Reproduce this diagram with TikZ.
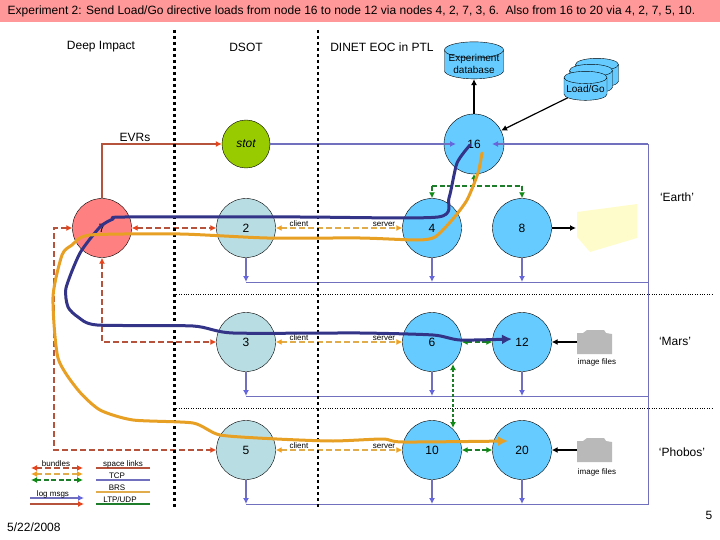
\documentclass[tikz,border=0pt]{standalone}
\usepackage{fontspec}
\setmainfont{Liberation Sans}
\usetikzlibrary{arrows.meta, shapes.geometric}

\definecolor{titlepink}{HTML}{FF9999}
\definecolor{nodeblue}{HTML}{66CCFF}
\definecolor{nodeteal}{HTML}{B8DDE3}
\definecolor{nodered}{HTML}{FF8080}
\definecolor{nodegreen}{HTML}{99CC00}
\definecolor{tcpline}{HTML}{7070BE}
\definecolor{tcptip}{HTML}{6666DD}
\definecolor{spaceline}{HTML}{B5533C}
\definecolor{spacetip}{HTML}{E8431A}
\definecolor{brsline}{HTML}{E0AC4C}
\definecolor{brstip}{HTML}{F0A020}
\definecolor{udpline}{HTML}{1E7D2A}
\definecolor{udptip}{HTML}{0F8A14}
\definecolor{pathblue}{HTML}{333388}
\definecolor{pathorange}{HTML}{E8A024}

\tikzset{
	site/.style = {circle, draw = black, thin, minimum size = 59pt, inner sep = 0pt, font = \fontsize{12}{14}\selectfont},
	label/.style = {inner sep = 0pt, font = \fontsize{12}{14}\selectfont},
	tinylabel/.style = {inner sep = 0pt, font = \fontsize{8}{9}\selectfont},
	store/.style = {cylinder, shape border rotate = 90, aspect = 0.32, draw = black, thin, fill = nodeblue, minimum width = 43pt, minimum height = 29pt, inner sep = 0pt, align = center, font = \fontsize{10}{12}\selectfont},
	tcp/.style = {draw = tcpline, line width = 1.3pt, -{Latex[color = tcptip, length = 6pt, width = 6pt]}},
	spacelink/.style = {draw = spaceline, line width = 1.3pt, -{Latex[color = spacetip, length = 6pt, width = 6pt]}},
	reddash/.style = {draw = spaceline, line width = 1.3pt, dash pattern = on 6pt off 3pt, {Latex[color = spacetip, length = 6pt, width = 6pt]}-{Latex[color = spacetip, length = 6pt, width = 6pt]}},
	orangedash/.style = {draw = brsline, line width = 1.3pt, dash pattern = on 6pt off 3pt, {Latex[color = brstip, length = 6pt, width = 6pt]}-{Latex[color = brstip, length = 6pt, width = 6pt]}},
	greendash/.style = {draw = udpline, line width = 1.3pt, dash pattern = on 5pt off 2.5pt, {Latex[color = udptip, length = 6pt, width = 6pt]}-{Latex[color = udptip, length = 6pt, width = 6pt]}},
	blackarrow/.style = {draw = black, line width = 1.2pt, -{Latex[length = 6pt, width = 6pt]}},
	bigpath/.style = {line width = 3pt, line join = round, line cap = round, -{Latex[length = 10pt, width = 10pt]}},
	divider/.style = {draw = black, line width = 2.6pt, dash pattern = on 3pt off 3pt},
	planetline/.style = {draw = black, thin, dotted}
}

\begin{document}
\begin{tikzpicture}[x = 1pt, y = -1pt]
	\useasboundingbox (0, 0) rectangle (720, 540);
	\fill[titlepink] (0, 0) rectangle (720, 22);
	\node[label, anchor = west] (title) at (7.5, 11) {Experiment 2: Send Load/Go directive loads from node 16 to node 12 via nodes 4, 2, 7, 3, 6.\ \ Also from 16 to 20 via 4, 2, 7, 5, 10.};

	\node[label] (deepimpact) at (101, 47) {Deep Impact};
	\node[label] (dsot) at (246, 47) {DSOT};
	\node[label] (dinet) at (382, 47) {DINET EOC in PTL};
	\node[label] (evrs) at (135, 137) {EVRs};
	\node[label] (earth) at (677, 197) {`Earth'};
	\node[label] (mars) at (675, 341) {`Mars'};
	\node[label] (phobos) at (682, 452) {`Phobos'};
	\node[label, anchor = west] (date) at (7, 527) {5/22/2008};
	\node[label] (pagenum) at (709, 515) {5};

	\coordinate (topright) at (648, 144);
	\coordinate (earthcorner) at (648, 282);
	\coordinate (marscorner) at (648, 396);
	\coordinate (phoboscorner) at (648, 504);
	\coordinate (earthleft) at (246, 282);
	\coordinate (marsleft) at (246, 396);
	\coordinate (phobosleft) at (246, 504);
	\draw[tcpline, thick] (topright) -- (phoboscorner) -- (phobosleft);
	\draw[tcpline, thick] (earthcorner) -- (earthleft);
	\draw[tcpline, thick] (marscorner) -- (marsleft);

	\foreach \y/\name in {294/earthline, 408/marsline}
	{
		\coordinate (\name a) at (174, \y);
		\coordinate (\name b) at (713, \y);
		\draw[planetline] (\name a) -- (\name b);
	}

	\node[site, fill = nodered] (n7) at (102, 228) {7};
	\node[site, fill = nodegreen, minimum size = 48pt, font = \fontsize{12}{14}\itshape] (stot) at (246, 144) {stot};
	\node[site, fill = nodeblue, minimum size = 60pt] (n16) at (474, 144) {16};
	\node[site, fill = nodeteal] (n2) at (246, 228) {2};
	\node[site, fill = nodeblue] (n4) at (432, 228) {4};
	\node[site, fill = nodeblue] (n8) at (522, 228) {8};
	\node[site, fill = nodeteal] (n3) at (246, 342) {3};
	\node[site, fill = nodeblue] (n6) at (432, 342) {6};
	\node[site, fill = nodeblue] (n12) at (522, 342) {12};
	\node[site, fill = nodeteal] (n5) at (246, 450) {5};
	\node[site, fill = nodeblue] (n10) at (432, 450) {10};
	\node[site, fill = nodeblue] (n20) at (522, 450) {20};

	\node[store, minimum width = 59pt, minimum height = 37pt] (expdb) at (474, 64.5) {\phantom{Experiment}};
	\node[inner sep = 0pt, align = center, font = \fontsize{10}{12}\selectfont] (expdbtext) at (474, 64) {Experiment\\database};
	\node[store] (loadc) at (597, 76) {\phantom{Load/Go}};
	\node[store] (loadb) at (591, 82) {\phantom{Load/Go}};
	\node[store] (loada) at (585.5, 89) {Load/Go};

	\fill[yellow!20!white] (577, 212) -- (637, 204) -- (637, 238) -- (590, 252) -- (577, 237) -- cycle;
	\coordinate (blob) at (576, 228);
	\foreach \y/\name in {342/camera, 450/cameratwo}
	{
		\fill[gray!55!white, shift = {(0, \y)}] (577, 12) -- (577, -9) -- (583, -9) -- (587, -12) -- (604, -12) -- (606, -9) -- (612, -8) -- (612, 12) -- cycle;
		\coordinate (\name) at (577, \y);
	}
	\node[tinylabel] (imagea) at (597, 362) {image files};
	\node[tinylabel] (imageb) at (597, 472) {image files};

	\coordinate (tipleft) at (456, 144);
	\coordinate (tipright) at (492, 144);
	\draw[tcp] (stot) -- (tipleft);
	\draw[tcp] (topright) -- (tipright);
	\foreach \site/\base in {n2/earthleft, n3/marsleft, n5/phobosleft}
	\draw[tcp] (\site) -- (\site |- \base);
	\foreach \site/\base in {n4/earthleft, n8/earthleft, n6/marsleft, n12/marsleft, n10/phobosleft, n20/phobosleft}
	\draw[tcp] (\site) -- (\site |- \base);

	\coordinate (evrscorner) at (102, 144);
	\draw[spacelink] (n7) -- (evrscorner) -- (stot);

	\draw[reddash] (n7) -- (n2);
	\coordinate (cornerthree) at (102, 342);
	\draw[reddash] (n7) -- (cornerthree) -- (n3);
	\coordinate (cornerfivea) at (54, 228);
	\coordinate (cornerfiveb) at (54, 450);
	\draw[reddash] (n7) -- (cornerfivea) -- (cornerfiveb) -- (n5);

	\foreach \cli/\srv in {n2/n4, n3/n6, n5/n10}
	{
		\draw[orangedash] (\cli) -- (\srv);
		\node[tinylabel] (client\cli) at ([xshift = 53pt, yshift = 4pt] \cli) {client};
		\node[tinylabel] (server\srv) at ([xshift = -48pt, yshift = 3.5pt] \srv) {server};
	}

	\coordinate (greenfork) at (474, 186);
	\draw[greendash, {Latex[color = udptip, length = 5pt, width = 6pt]}-] (n16) -- (greenfork);
	\coordinate (forkleft) at (432, 186);
	\coordinate (forkright) at (522, 186);
	\draw[greendash, -{Latex[color = udptip, length = 6pt, width = 6pt]}] (forkleft) -- (n4);
	\draw[greendash, -{Latex[color = udptip, length = 6pt, width = 6pt]}] (forkright) -- (n8);
	\draw[greendash, -] (forkleft) -- (forkright);
	\draw[greendash] (n6) -- (n12);
	\draw[greendash] (n10) -- (n20);
	\coordinate (upgreen) at (453, 364);
	\coordinate (downgreen) at (453, 428);
	\draw[greendash, dash pattern = on 3pt off 2pt] (upgreen) -- (downgreen);

	\draw[blackarrow] (n16) -- (expdb);
	\draw[blackarrow] (loada) -- (n16);
	\draw[blackarrow] (n8) -- (blob);
	\draw[blackarrow] (camera) -- (n12);
	\draw[blackarrow] (cameratwo) -- (n20);

	\foreach \x in {174.5, 318}
	\draw[divider] (\x, 30) -- (\x, 507);

	\coordinate (bluestart) at (470, 145);
	\coordinate (blueend) at (512, 339);
	\draw[bigpath, pathblue] plot[smooth, tension = 0.4] coordinates {(bluestart) (457, 163) (449, 198) (438, 217) (300, 217) (125, 217) (113, 219) (100, 227) (80, 253) (66, 288) (68, 307) (78, 317) (97, 325) (193, 326) (233, 333) (360, 333) (433, 335) (460, 340) (blueend)};

	\coordinate (orangestart) at (482, 153);
	\coordinate (orangeend) at (508, 441);
	\draw[bigpath, pathorange] plot[smooth, tension = 0.4] coordinates {(orangestart) (478, 173) (467, 200) (452, 220) (435, 237) (417, 240) (360, 238) (267, 238) (180, 234) (90, 235) (72, 245) (62, 255) (53, 297) (58, 358) (78, 390) (100, 410) (133, 420) (193, 423) (220, 435) (277, 439) (333, 441) (383, 439) (403, 442) (orangeend)};

	\coordinate (bunda) at (31, 468);
	\coordinate (bundb) at (83, 468);
	\coordinate (bundc) at (31, 474);
	\coordinate (bundd) at (83, 474);
	\coordinate (bunde) at (31, 480);
	\coordinate (bundf) at (83, 480);
	\draw[reddash] (bunda) -- (bundb);
	\draw[orangedash] (bundc) -- (bundd);
	\draw[greendash] (bunde) -- (bundf);
	\node[tinylabel] (bundles) at (56, 464) {bundles};

	\coordinate (loga) at (30, 498);
	\coordinate (logb) at (84, 498);
	\coordinate (logc) at (30, 504);
	\coordinate (logd) at (84, 504);
	\draw[tcp] (loga) -- (logb);
	\draw[spacelink] (logc) -- (logd);
	\node[tinylabel] (logmsgs) at (53, 494.5) {log msgs};

	\foreach \y/\col/\name in {468/spaceline/linka, 480/tcpline/linkb, 492/brsline/linkc, 504/udpline/linkd}
	{
		\coordinate (\name l) at (96, \y);
		\coordinate (\name r) at (150, \y);
		\draw[\col, line width = 1.3pt] (\name l) -- (\name r);
	}
	\node[tinylabel] (spacelinks) at (123, 464.5) {space links};
	\node[tinylabel] (tcptext) at (117, 476) {TCP};
	\node[tinylabel] (brstext) at (117, 488) {BRS};
	\node[tinylabel] (ltptext) at (120, 500) {LTP/UDP};
\end{tikzpicture}
\end{document}
